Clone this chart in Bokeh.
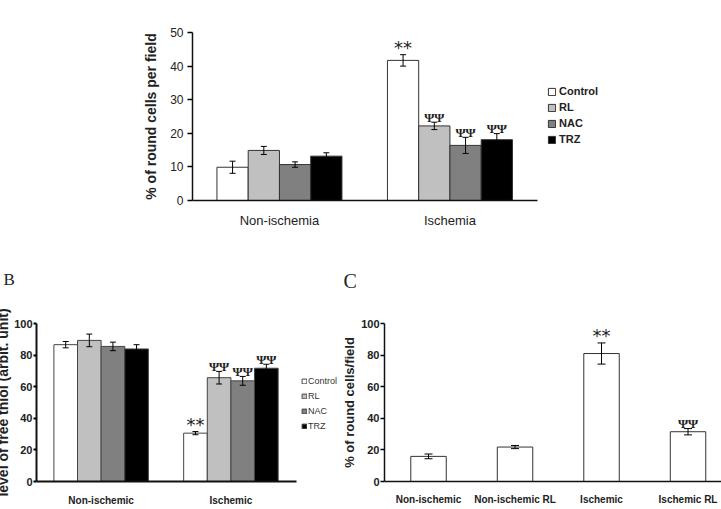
from bokeh.plotting import figure
from bokeh.models import (ColumnDataSource, Whisker, Label, Legend, LegendItem,
                          FixedTicker, Range1d, TeeHead, Title)
from bokeh.layouts import column, row
from bokeh.embed import file_html
from bokeh.resources import INLINE

# ---------------- data ----------------
series = ["Control", "RL", "NAC", "TRZ"]
series_colors = ["#ffffff", "#c0c0c0", "#808080", "#000000"]

# Panel A
a_groups = ["Non-ischemia", "Ischemia"]
a_control = [9.9, 41.7]
a_rl = [14.9, 22.2]
a_nac = [10.7, 16.4]
a_trz = [13.2, 18.1]
a_control_err = [1.8, 1.7]
a_rl_err = [1.2, 1.1]
a_nac_err = [0.8, 2.4]
a_trz_err = [1.0, 1.8]
a_control_mark = ["", "**"]
a_rl_mark = ["", "ΨΨ"]
a_nac_mark = ["", "ΨΨ"]
a_trz_mark = ["", "ΨΨ"]
a_yticks = [0, 10, 20, 30, 40, 50]
a_ylabel = "% of round cells per field"

# Panel B
b_groups = ["Non-ischemic", "Ischemic"]
b_control = [86.6, 30.6]
b_rl = [89.3, 65.7]
b_nac = [85.5, 63.7]
b_trz = [83.9, 71.7]
b_control_err = [2.0, 1.0]
b_rl_err = [4.0, 4.0]
b_nac_err = [2.7, 2.8]
b_trz_err = [2.7, 2.5]
b_control_mark = ["", "**"]
b_rl_mark = ["", "ΨΨ"]
b_nac_mark = ["", "ΨΨ"]
b_trz_mark = ["", "ΨΨ"]
b_yticks = [0, 20, 40, 60, 80, 100]
b_ylabel = "level of free thiol (arbit. unit)"

# Panel C
c_cats = ["Non-ischemic", "Non-ischemic RL", "Ischemic", "Ischemic RL"]
c_vals = [15.9, 21.8, 81.0, 31.5]
c_err = [1.5, 1.0, 6.7, 2.0]
c_marks = ["", "", "**", "ΨΨ"]
c_yticks = [0, 20, 40, 60, 80, 100]
c_ylabel = "% of round cells/field"

SANS = "Liberation Sans"
SERIF = "Liberation Serif"
STAR = "DejaVu Sans"


def base_fig(w, h, xr, yr, left, right, top, bottom):
    p = figure(width=w, height=h, x_range=xr, y_range=yr,
               output_backend="svg", toolbar_location=None,
               min_border_left=left, min_border_right=right,
               min_border_top=top, min_border_bottom=bottom)
    p.xgrid.visible = False
    p.ygrid.visible = False
    p.outline_line_color = None
    p.background_fill_color = "white"
    p.border_fill_color = "white"
    return p


def style_axes(p, cats, yticks, tick_size, tick_style, tick_out, tick_standoff,
               cat_size, cat_style, cat_standoff, axis_w, xbounds=None):
    xa = p.xaxis[0]
    xa.ticker = FixedTicker(ticks=list(range(len(cats))))
    xa.major_label_overrides = {i: c for i, c in enumerate(cats)}
    xa.major_tick_in = 0
    xa.major_tick_out = 0
    xa.minor_tick_in = 0
    xa.minor_tick_out = 0
    xa.major_label_standoff = cat_standoff
    xa.major_label_text_font = SANS
    xa.major_label_text_font_size = cat_size
    xa.major_label_text_font_style = cat_style
    xa.major_label_text_color = "#222222"
    xa.axis_line_width = axis_w
    xa.axis_line_color = "#111111"
    if xbounds is not None:
        xa.bounds = xbounds
    ya = p.yaxis[0]
    ya.ticker = FixedTicker(ticks=yticks)
    ya.major_tick_in = 0
    ya.major_tick_out = tick_out
    ya.minor_tick_in = 0
    ya.minor_tick_out = 0
    ya.major_tick_line_width = axis_w
    ya.major_label_standoff = tick_standoff
    ya.major_label_text_font = SANS
    ya.major_label_text_font_size = tick_size
    ya.major_label_text_font_style = tick_style
    ya.major_label_text_color = "#222222"
    ya.axis_line_width = axis_w
    ya.axis_line_color = "#111111"


def set_ylabel(p, text, size, standoff):
    ya = p.yaxis[0]
    ya.axis_label = text
    ya.axis_label_text_font = SANS
    ya.axis_label_text_font_size = size
    ya.axis_label_text_font_style = "bold"
    ya.axis_label_text_color = "#222222"
    ya.axis_label_standoff = standoff


def grouped_bars(p, groups, vals, errs, marks, bw, outline, head,
                 star_size, psi_size):
    n = len(vals)
    rends = []
    for s in range(n):
        xs = [g + (s - (n - 1) / 2) * bw for g in range(len(groups))]
        tops = vals[s]
        src = ColumnDataSource(dict(
            x=xs, top=tops,
            upper=[t + e for t, e in zip(tops, errs[s])],
            lower=[t - e for t, e in zip(tops, errs[s])]))
        r = p.vbar(x="x", top="top", width=bw, source=src,
                   fill_color=series_colors[s], line_color=outline, line_width=1)
        rends.append(r)
        p.add_layout(Whisker(source=src, base="x", upper="upper", lower="lower",
                             line_color="black", line_width=1, level="annotation",
                             upper_head=TeeHead(size=head, line_width=1),
                             lower_head=TeeHead(size=head, line_width=1)))
        for x, t, e, m in zip(xs, tops, errs[s], marks[s]):
            if not m:
                continue
            star = m.startswith("*")
            p.add_layout(Label(x=x, y=t + e, text=m, text_align="center",
                               text_baseline="alphabetic",
                               y_offset=7 if star else 5,
                               text_font=STAR if star else SERIF,
                               text_font_size=star_size if star else psi_size,
                               text_font_style="normal" if star else "bold",
                               text_color="#222222"))
    return rends


def make_legend(rends, vx, vy, glyph, spacing, standoff, size, style, color):
    return Legend(items=[LegendItem(label=s, renderers=[r]) for s, r in zip(series, rends)],
                  location=(vx, vy), glyph_width=glyph, glyph_height=glyph,
                  label_height=glyph, spacing=spacing, padding=0, margin=0,
                  label_standoff=standoff, border_line_color=None,
                  background_fill_alpha=0, label_text_font=SANS,
                  label_text_font_size=size, label_text_font_style=style,
                  label_text_color=color)


# ---------------- Panel A ----------------
pA = base_fig(721, 230, Range1d(-0.510, 1.883), Range1d(0, 50),
              192, 121, 32, 30)
style_axes(pA, a_groups, a_yticks, "12px", "normal", 5, 4,
           "13px", "normal", 12, 1.5, xbounds=(-0.510, 1.513))
set_ylabel(pA, a_ylabel, "14px", 8)
rA = grouped_bars(pA, a_groups,
                  [a_control, a_rl, a_nac, a_trz],
                  [a_control_err, a_rl_err, a_nac_err, a_trz_err],
                  [a_control_mark, a_rl_mark, a_nac_mark, a_trz_mark],
                  0.1833, "#333333", 6, "18px", "13px")
pA.add_layout(make_legend(rA, 355, 55, 9, 4, 3, "11px", "bold", "#222222"))

# ---------------- Panel B ----------------
pB = base_fig(346, 279, Range1d(-0.498, 1.829), Range1d(0, 100),
              40, 0, 93, 25)
pB.margin = (0, 0, 0, -8)
style_axes(pB, b_groups, b_yticks, "11px", "bold", 3, 1,
           "10px", "bold", 13, 2, xbounds=(-0.498, 1.502))
set_ylabel(pB, b_ylabel, "14px", 0)
rB = grouped_bars(pB, b_groups,
                  [b_control, b_rl, b_nac, b_trz],
                  [b_control_err, b_rl_err, b_nac_err, b_trz_err],
                  [b_control_mark, b_rl_mark, b_nac_mark, b_trz_mark],
                  0.182, "#444444", 6, "18px", "13px")
pB.add_layout(make_legend(rB, 265, 50, 6, 5, 1, "9px", "normal", "#333333"))
pB.add_layout(Title(text="B", align="left", offset=-33, standoff=70,
                    vertical_align="bottom", text_font=SERIF,
                    text_font_size="17px", text_font_style="normal",
                    text_color="#222222"), "above")

# ---------------- Panel C ----------------
pC = base_fig(383, 279, Range1d(-0.509, 3.387), Range1d(0, 100),
              46, 0, 93, 28)
style_axes(pC, c_cats, c_yticks, "11px", "bold", 4, 1,
           "10px", "bold", 12, 1.5)
set_ylabel(pC, c_ylabel, "13px", 1)
grouped_bars(pC, c_cats, [c_vals], [c_err], [c_marks],
             0.41, "#333333", 8, "18px", "13px")
pC.add_layout(Title(text="C", align="left", offset=-41, standoff=64,
                    vertical_align="bottom", text_font=SERIF,
                    text_font_size="20px", text_font_style="normal",
                    text_color="#222222"), "above")

layout = column(pA, row(pB, pC))
open("out.html", "w").write(file_html(layout, INLINE))
